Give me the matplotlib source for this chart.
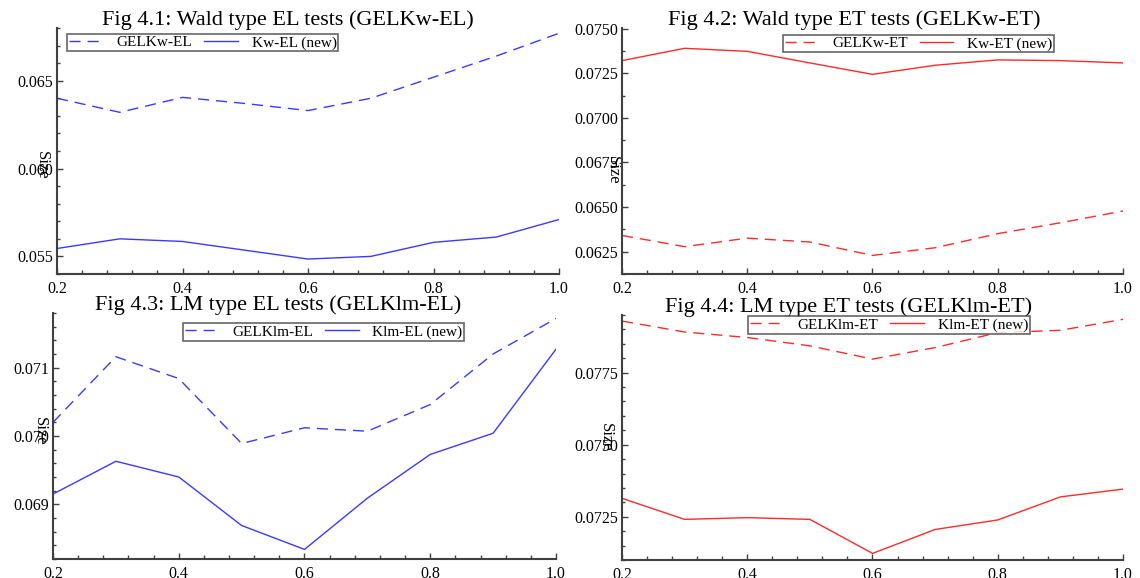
import numpy as np
import matplotlib
matplotlib.use("Agg")
import matplotlib.pyplot as plt
from matplotlib.ticker import MultipleLocator, FormatStrFormatter

plt.rcParams['font.family'] = ['Liberation Serif', 'DejaVu Serif']

# ========== DATA ==========
lam = [0.2, 0.3, 0.4, 0.5, 0.6, 0.7, 0.8, 0.9, 1.0]

gelkw_el = [0.0640, 0.0632, 0.06405, 0.0637, 0.0633, 0.0640, 0.0652, 0.0664, 0.0677]
kw_el = [0.05545, 0.0560, 0.05585, 0.05535, 0.05485, 0.0550, 0.0558, 0.0561, 0.0571]

gelkw_et = [0.06341, 0.06278, 0.06326, 0.06304, 0.06229, 0.06272, 0.06351, 0.06412, 0.06478]
kw_et = [0.07321, 0.07390, 0.07373, 0.07308, 0.07244, 0.07295, 0.07325, 0.07321, 0.07308]

gelklm_el = [0.07020, 0.07116, 0.07084, 0.06989, 0.07012, 0.07007, 0.07046, 0.07120, 0.07172]
klm_el = [0.06915, 0.06963, 0.06940, 0.06869, 0.06834, 0.06909, 0.06973, 0.07004, 0.07127]

gelklm_et = [0.07929, 0.07891, 0.07872, 0.07843, 0.07797, 0.07837, 0.07889, 0.07897, 0.07935]
klm_et = [0.07314, 0.07241, 0.07247, 0.07241, 0.07123, 0.07206, 0.07239, 0.07319, 0.07346]

titles = ["Fig 4.1: Wald type EL tests (GELKw-EL)",
          "Fig 4.2: Wald type ET tests (GELKw-ET)",
          "Fig 4.3: LM type EL tests (GELKlm-EL)",
          "Fig 4.4: LM type ET tests (GELKlm-ET)"]
labels = [("GELKw-EL", "Kw-EL (new)"), ("GELKw-ET", "Kw-ET (new)"),
          ("GELKlm-EL", "Klm-EL (new)"), ("GELKlm-ET", "Klm-ET (new)")]

BLUE = "#3a3aff"
RED = "#ff2a2a"
SPINE = "#404040"

# per panel: axes rect, series, colour, y range, ticks, label format,
# title x, legend anchor, ylabel position
panels = [
    dict(rect=[0.0500, 0.5260, 0.4404, 0.4256], data=(gelkw_el, kw_el), color=BLUE,
         ylim=(0.054, 0.068), major=0.005, minor=0.001, fmt="%.3f",
         tx=0.46, leg=(0.02, 0.976), yl=(-0.03, 0.44)),
    dict(rect=[0.5456, 0.5260, 0.4395, 0.4256], data=(gelkw_et, kw_et), color=RED,
         ylim=(0.06125, 0.07504), major=0.0025, minor=0.00125, fmt="%.4f",
         tx=0.463, leg=(0.321, 0.972), yl=(-0.018, 0.42)),
    dict(rect=[0.0465, 0.0329, 0.4412, 0.4256], data=(gelklm_el, klm_el), color=BLUE,
         ylim=(0.0682, 0.0718), major=0.001, minor=0.0002, fmt="%.3f",
         tx=0.447, leg=(0.258, 0.959), yl=(-0.026, 0.52)),
    dict(rect=[0.5456, 0.0311, 0.4395, 0.4239], data=(gelklm_et, klm_et), color=RED,
         ylim=(0.0710, 0.0795), major=0.0025, minor=0.0005, fmt="%.4f",
         tx=0.453, leg=(0.2515, 0.996), yl=(-0.032, 0.50)),
]

fig = plt.figure(figsize=(11.4, 5.78), dpi=100)

for i, p in enumerate(panels):
    ax = fig.add_axes(p['rect'])
    dashed, solid = p['data']
    ax.plot(lam, dashed, color=p['color'], lw=1.0, dashes=(8, 5), label=labels[i][0])
    ax.plot(lam, solid, color=p['color'], lw=1.0, label=labels[i][1])

    ax.set_xlim(0.2, 1.0)
    ax.set_ylim(*p['ylim'])
    ax.xaxis.set_major_locator(MultipleLocator(0.2))
    ax.xaxis.set_minor_locator(MultipleLocator(0.04))
    ax.xaxis.set_major_formatter(FormatStrFormatter("%.1f"))
    ax.yaxis.set_major_locator(MultipleLocator(p['major']))
    ax.yaxis.set_minor_locator(MultipleLocator(p['minor']))
    ax.yaxis.set_major_formatter(FormatStrFormatter(p['fmt']))

    for s in ['top', 'right']:
        ax.spines[s].set_visible(False)
    for s in ['left', 'bottom']:
        ax.spines[s].set_color(SPINE)
        ax.spines[s].set_linewidth(1.5)

    ax.tick_params(axis='both', which='both', direction='in', color=SPINE, width=1.0)
    ax.tick_params(axis='x', which='major', length=4.5, pad=5, labelsize=11.5)
    ax.tick_params(axis='x', which='minor', length=3)
    ax.tick_params(axis='y', which='major', length=4.5, pad=3, labelsize=11.5)
    ax.tick_params(axis='y', which='minor', length=2.5)

    ax.set_ylabel("Size", rotation=270, fontsize=12, va='center', ha='center')
    ax.yaxis.set_label_coords(*p['yl'])

    ax.text(p['tx'], 1.032, titles[i], transform=ax.transAxes, ha='center', va='center',
            fontsize=16)

    leg = ax.legend(loc='upper left', bbox_to_anchor=p['leg'], ncol=2, fontsize=11,
                    frameon=True, fancybox=False, borderpad=0.12, handlelength=2.2,
                    handletextpad=0.9, columnspacing=0.8, borderaxespad=0.0)
    leg.get_frame().set_edgecolor(SPINE)
    leg.get_frame().set_linewidth(1.2)

fig.savefig("out.png", dpi=100)
